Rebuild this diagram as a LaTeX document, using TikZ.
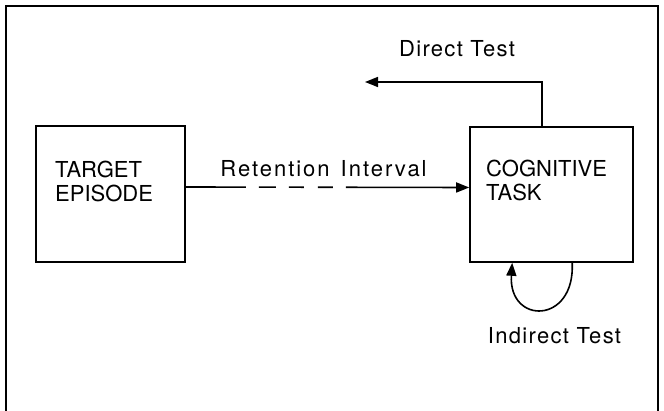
\documentclass[tikz,border=0pt]{standalone}
\usepackage{fontspec}
\setmainfont{TeX Gyre Heros}
\usetikzlibrary{arrows.meta,positioning,calc}
\tikzset{
    blockbox/.style={draw, line width=1.6pt, inner sep=0pt},
    blocktext/.style={inner sep=0pt, font=\fontsize{22}{24}\selectfont},
    testtext/.style={blocktext, font=\fontsize{22}{24}\selectfont\addfontfeatures{LetterSpace=6}},
    conn/.style={line width=1.6pt, -{Triangle[length=13pt,width=10pt]}}
}
\begin{document}
\begin{tikzpicture}[x=1pt, y=-1pt]
        \useasboundingbox (0,0) rectangle (664,411);
        % --- Draw frame ---
        \draw[line width=1.6pt] (6,412) -- (6,6) -- (658,6) -- (658,412);
        % ---

        % --- Draw boxes ---
        \node[blockbox, minimum width=149pt, minimum height=136pt] (target) at (110.5,194) {};
        \node[blockbox, minimum width=163pt, minimum height=135pt] (cognitive) at (551.5,194.5) {};
        \node[blocktext, anchor=base west] (targettop) at (55,178) {TARGET};
        \node[blocktext, anchor=base west] (targetbot) at (55,202) {EPISODE};
        \node[blocktext, anchor=base west] (cogtop) at (486,177) {COGNITIVE};
        \node[blocktext, anchor=base west] (cogbot) at (486,201) {TASK};
        % ---

        % --- Draw retention interval ---
        \draw[conn, dash pattern=on 60pt off 13pt on 17pt off 13pt on 15pt off 14pt on 15pt off 13pt on 400pt]
            ([yshift=7pt]target.east) -- ([yshift=7pt]cognitive.west)
            node[blocktext, font=\fontsize{22}{24}\selectfont\addfontfeatures{LetterSpace=9}, pos=0.486, above=10pt] (retention) {Retention\hspace{3pt} Interval};
        % ---

        % --- Draw direct and indirect test ---
        \coordinate (directend) at (365,82);
        \draw[conn] ([xshift=73pt]cognitive.north west) |- (directend);
        \node[testtext, anchor=base] (direct) at (457,57) {Direct Test};
        \draw[conn] ([xshift=103pt]cognitive.south west) .. controls +(3,62) and +(-4,62) .. ([xshift=43pt]cognitive.south west);
        \node[testtext, anchor=base] (indirect) at (554.5,344) {Indirect Test};
        % ---
    \end{tikzpicture}
\end{document}
